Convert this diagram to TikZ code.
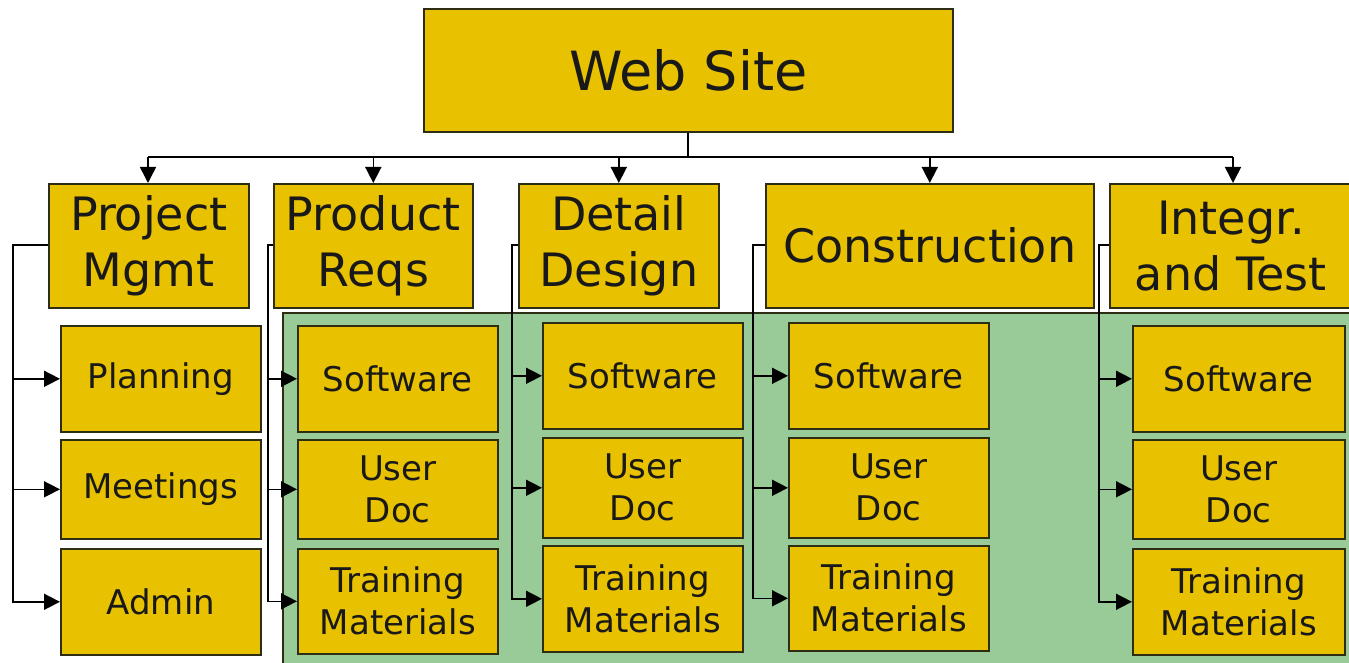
\documentclass[tikz,border=0pt]{standalone}
\usepackage{fontspec}
\setmainfont{DejaVu Sans}
\usetikzlibrary{arrows.meta}
\definecolor{gold}{RGB}{232,193,0}
\definecolor{sage}{RGB}{152,203,152}
\definecolor{edge}{RGB}{45,45,20}
\tikzset{
  box/.style={draw=edge, line width=1.6pt, fill=gold, inner sep=0pt, anchor=north west, text=black!90},
  big/.style={font=\fontsize{54}{60}\selectfont},
  mid/.style={font=\fontsize{46}{56}\selectfont, align=center},
  small/.style={font=\fontsize{34}{42}\selectfont, align=center},
  conn/.style={draw=black, line width=1.6pt},
  arr/.style={conn, -{Triangle[length=16pt,width=16pt]}},
}
\newcommand{\bx}[7]{% name, left, top, right, bottom, style, text
  \node[box,#6, minimum width={(#4-#2)*1pt}, minimum height={(#5-#3)*1pt}] (#1) at (#2,#3) {#7};}
\begin{document}
\begin{tikzpicture}[x=1pt,y=-1pt]
\useasboundingbox (0,0) rectangle (1349,663);
\fill[white] (0,0) rectangle (1349,663);
% green region
\path[fill=sage] (283,313) rectangle (1360,670);
\draw[edge, line width=1.4pt] (283,670) -- (283,313) -- (1360,313);

% top
\bx{web}{423}{8}{952}{131}{big}{Web Site}
% parents
\bx{pm}{48}{183}{248}{307}{mid}{Project\\Mgmt}
\bx{pr}{273}{183}{472}{307}{mid}{Product\\Reqs}
\bx{dd}{518}{183}{718}{307}{mid}{Detail\\Design}
\bx{con}{765}{183}{1093}{307}{mid}{Construction}
\bx{it}{1109}{183}{1351}{307}{mid}{Integr.\\and Test}

% children PM
\bx{pmA}{60}{325}{260}{431}{small}{Planning}
\bx{pmB}{60}{439}{260}{538}{small}{Meetings}
\bx{pmC}{60}{548}{260}{654}{small}{Admin}
% children PR
\bx{prA}{297}{325}{497}{431}{small}{Software}
\bx{prB}{297}{439}{497}{538}{small}{User\\Doc}
\bx{prC}{297}{548}{497}{653}{small}{Training\\Materials}
% children DD
\bx{ddA}{542}{322}{742}{428}{small}{Software}
\bx{ddB}{542}{437}{742}{537}{small}{User\\Doc}
\bx{ddC}{542}{545}{742}{651}{small}{Training\\Materials}
% children CON
\bx{conA}{788}{322}{988}{428}{small}{Software}
\bx{conB}{788}{437}{988}{537}{small}{User\\Doc}
\bx{conC}{788}{545}{988}{650}{small}{Training\\Materials}
% children IT
\bx{itA}{1132}{325}{1344}{431}{small}{Software}
\bx{itB}{1132}{439}{1344}{538}{small}{User\\Doc}
\bx{itC}{1132}{548}{1344}{654}{small}{Training\\Materials}

% bus
\coordinate (bus) at (688,157);
\coordinate (busL) at (148,157);
\coordinate (busR) at (1233,157);
\draw[conn] (web.south -| bus) -- (bus);
\draw[conn] (busL) -- (busR);
\draw[arr] (busL) -- (busL |- pm.north);
\draw[arr] (pr.north |- bus) -- (pr.north);
\draw[arr] (dd.north |- bus) -- (dd.north);
\draw[arr] (con.north |- bus) -- (con.north);
\draw[arr] (busR) -- (busR |- it.north);

% brackets
\coordinate (pmb) at (13,245);
\coordinate (prb) at (268,245);
\coordinate (ddb) at (512,245);
\coordinate (conb) at (753,245);
\coordinate (itb) at (1099,245);
\foreach \p/\b in {pm/pmb, pr/prb, dd/ddb, con/conb, it/itb}{
  \draw[arr] (\p.west |- \b) -- (\b) |- (\p C.west);
  \draw[arr] (\b |- \p A.west) -- (\p A.west);
  \draw[arr] (\b |- \p B.west) -- (\p B.west);
}
\end{tikzpicture}
\end{document}
